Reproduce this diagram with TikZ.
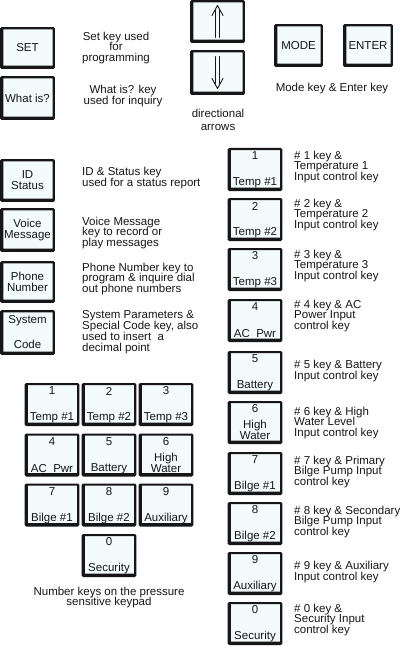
\documentclass[tikz,border=0pt]{standalone}
\usepackage{fontspec}
\setmainfont{Liberation Sans}
\definecolor{keyfill}{RGB}{244,251,253}
\definecolor{ink}{RGB}{22,22,22}
\newcommand\numkey[5]{% name, cx, cy, number, label
  \node[key, minimum width=52.6pt, minimum height=40.8pt] (#1) at (#2,#3) {};
  \node[txt] (#1n) at ([yshift=-8pt]#1.north) {#4};
  \node[txt] (#1l) at ([yshift=8pt]#1.south) {#5};
}
\newcommand\hwkey[3]{% name, cx, cy
  \node[key, minimum width=52.6pt, minimum height=40.8pt] (#1) at (#2,#3) {};
  \node[txt] (#1n) at ([yshift=-8pt]#1.north) {6};
  \node[txt, align=center] (#1l) at ([yshift=14pt]#1.south) {High\\Water};
}
\begin{document}
\begin{tikzpicture}[x=1pt,y=-1pt,
  key/.style={draw=ink, line width=2.2pt, fill=keyfill, inner sep=0pt, rounded corners=0.8pt,
    path picture={\draw[ink, line width=4.4pt] (path picture bounding box.north west)
      -- (path picture bounding box.south west) -- (path picture bounding box.south east);}},
  txt/.style={text=ink, font=\fontsize{11.5}{10.8}\selectfont, inner sep=0pt},
  desc/.style={txt, align=left, anchor=west},
  ctext/.style={txt, align=center},
  arr/.style={draw=ink, line width=0.9pt, line cap=round, line join=round},
]
\useasboundingbox (0,0) rectangle (407,647);

% ---- top left: SET / What is?
\node[key, minimum width=52.6pt, minimum height=39.6pt] (set) at (27.5,48) {};
\node[txt] (setl) at (set) {SET};
\node[key, minimum width=52.6pt, minimum height=41.6pt] (what) at (27.5,98) {};
\node[txt] (whatl) at (what) {What is?};
\node[ctext] (setd) at (116,48) {Set key used\\for\\programming};
\node[ctext] (whatd) at (123,96) {What is? key\\used for inquiry};

% ---- directional arrows
\node[key, minimum width=52.6pt, minimum height=40.6pt] (up) at (217.5,21.5) {};
\node[key, minimum width=52.6pt, minimum height=42.6pt] (down) at (217.5,72.5) {};
\draw[arr] ([shift={(-2,16)}]up.center) -- ([shift={(-2,-11)}]up.center);
\draw[arr] ([shift={(2,16)}]up.center) -- ([shift={(2,-11)}]up.center);
\draw[arr] ([shift={(-5.5,-6)}]up.center) -- ([shift={(0,-16)}]up.center) -- ([shift={(5.5,-6)}]up.center);
\draw[arr] ([shift={(-2,-16)}]down.center) -- ([shift={(-2,11)}]down.center);
\draw[arr] ([shift={(2,-16)}]down.center) -- ([shift={(2,11)}]down.center);
\draw[arr] ([shift={(-5.5,6)}]down.center) -- ([shift={(0,16)}]down.center) -- ([shift={(5.5,6)}]down.center);
\node[ctext, font=\fontsize{11.5}{13.5}\selectfont] (dird) at (218,120) {directional\\arrows};

% ---- MODE / ENTER
\node[key, minimum width=46.6pt, minimum height=40.6pt] (mode) at (298.5,45.5) {};
\node[txt] (model) at (mode) {MODE};
\node[key, minimum width=47.6pt, minimum height=40.6pt] (enter) at (368,45.5) {};
\node[txt] (enterl) at (enter) {ENTER};
\node[ctext] (med) at (332,89) {Mode key \& Enter key};

% ---- left column
\node[key, minimum width=52.6pt, minimum height=40.6pt] (id) at (27.5,180.5) {};
\node[ctext] (idl) at (id) {ID\\Status};
\node[desc] (idd) at (82,178) {ID \& Status key\\used for a status report};

\node[key, minimum width=52.6pt, minimum height=41.6pt] (voice) at (27.5,230) {};
\node[ctext] (voicel) at (voice) {Voice\\Message};
\node[desc] (voiced) at (82,233) {Voice Message\\key to record or\\play messages};

\node[key, minimum width=52.6pt, minimum height=39.6pt] (phone) at (27.5,282) {};
\node[ctext] (phonel) at (phone) {Phone\\Number};
\node[desc] (phoned) at (82,279) {Phone Number key to\\program \& inquire dial\\out phone numbers};

\node[key, minimum width=52.6pt, minimum height=42.6pt] (sys) at (27.5,332.5) {};
\node[txt] (sysl1) at ([yshift=-11pt]sys.north) {System};
\node[txt] (sysl2) at ([yshift=11pt]sys.south) {Code};
\node[desc] (sysd) at (82,332) {System Parameters \&\\Special Code key, also\\used to insert~~a\\decimal point};

% ---- keypad
\numkey{p1}{52}{404.5}{1}{Temp \#1}
\numkey{p2}{109}{404.5}{2}{Temp \#2}
\numkey{p3}{166}{404.5}{3}{Temp \#3}
\numkey{p4}{52}{455}{4}{AC~~Pwr}
\numkey{p5}{109}{455}{5}{Battery}
\hwkey{p6}{166}{455}
\numkey{p7}{52}{505}{7}{Bilge \#1}
\numkey{p8}{109}{505}{8}{Bilge \#2}
\numkey{p9}{166}{505}{9}{Auxiliary}
\numkey{p0}{109}{555.5}{0}{Security}
\node[ctext] (padd) at (109,597.5) {Number keys on the pressure\\sensitive keypad};

% ---- right column
\numkey{r1}{255}{169.5}{1}{Temp \#1}
\numkey{r2}{255}{219.5}{2}{Temp \#2}
\numkey{r3}{255}{269.5}{3}{Temp \#3}
\numkey{r4}{255}{320.5}{4}{AC~~Pwr}
\numkey{r5}{255}{372.5}{5}{Battery}
\hwkey{r6}{255}{422.5}
\numkey{r7}{255}{473.5}{7}{Bilge \#1}
\numkey{r8}{255}{523.5}{8}{Bilge \#2}
\numkey{r9}{255}{573.5}{9}{Auxiliary}
\numkey{r0}{255}{623.5}{0}{Security}

\node[desc] (r1d) at (294,167) {\# 1 key \&\\Temperature 1\\Input control key};
\node[desc] (r2d) at (294,215) {\# 2 key \&\\Temperature 2\\Input control key};
\node[desc] (r3d) at (294,266) {\# 3 key \&\\Temperature 3\\Input control key};
\node[desc] (r4d) at (294,316) {\# 4 key \& AC\\Power Input\\control key};
\node[desc] (r5d) at (294,371) {\# 5 key \& Battery\\Input control key};
\node[desc] (r6d) at (294,423) {\# 6 key \& High\\Water Level\\Input control key};
\node[desc] (r7d) at (294,472) {\# 7 key \& Primary\\Bilge Pump Input\\control key};
\node[desc] (r8d) at (294,522) {\# 8 key \& Secondary\\Bilge Pump Input\\control key};
\node[desc] (r9d) at (294,572) {\# 9 key \& Auxiliary\\Input control key};
\node[desc] (r0d) at (294,620) {\# 0 key \&\\Security Input\\control key};
\end{tikzpicture}
\end{document}
